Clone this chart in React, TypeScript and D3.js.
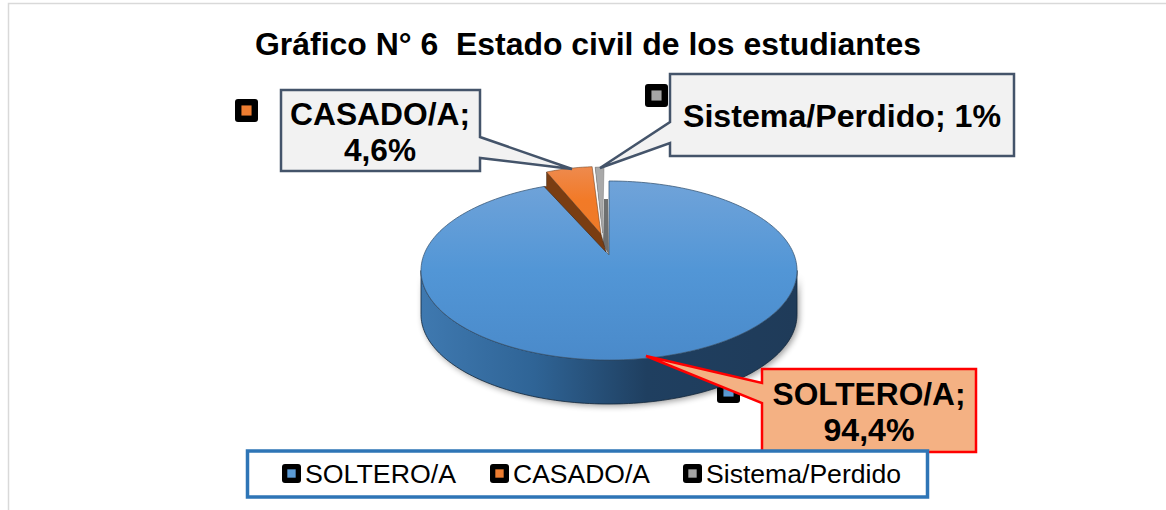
import React from "react";
import * as d3 from "d3";

const categories = ["SOLTERO/A", "CASADO/A", "Sistema/Perdido"];
const values = [94.4, 4.6, 1];
const valueLabels = ["94,4%", "4,6%", "1%"];
const colors = ["#5b9bd5", "#ed7d31", "#a5a5a5"];
const titleText = "Gráfico N° 6  Estado civil de los estudiantes";

const W = 1166, H = 510;
const cx = 609, cy = 270.5, rx = 188, ry = 89.5, depth = 44;
const apex: [number, number] = [609, 255];

const pieGen = d3.pie<number>().sort(null).value(d => d);
const slices = pieGen(values);

const rim = (a: number): [number, number] => [cx + rx * Math.sin(a), cy - ry * Math.cos(a)];
const arcPts = (a0: number, a1: number, n = 80) => d3.range(n + 1).map(i => rim(a0 + (a1 - a0) * i / n));
const line = d3.line<[number, number]>().x(d => d[0]).y(d => d[1]);
const closed = (pts: [number, number][]) => line(pts) + "Z";

// blue slice
const blue = slices[0];
const blueTop = closed([apex, ...arcPts(blue.startAngle, blue.endAngle, 240)]);
// outer wall: the lower half of the rim, pushed down by the depth
const wallTop = arcPts(Math.PI / 2, Math.PI * 1.5, 120);
const wallBottom = wallTop.slice().reverse().map(p => [p[0], p[1] + depth] as [number, number]);
const wallPath = closed([...wallTop, ...wallBottom]);

// exploded slices: rim scaled about the axis and shifted
const explode = (a0: number, a1: number, k: number, dx: number, dy: number) =>
  arcPts(a0, a1, 20).map(p => [cx + k * (p[0] - cx) + dx, p[1] + dy] as [number, number]);
const orangeRim = explode(slices[1].startAngle, slices[1].endAngle, 0.86, -6.7, -14.5);
const greyRim = explode(slices[2].startAngle, slices[2].endAngle, 0.75, -5, -14);
const orangeApex: [number, number] = [601, 234];
const greyApex: [number, number] = [602.5, 233];
const blueEnd = rim(blue.endAngle);

const FONT = "'Liberation Sans', Arial, sans-serif";

function Marker({ x, y, s, fill, r }: { x: number; y: number; s: number; fill: string; r: number }) {
  const inner = s * 0.44;
  return (
    <g>
      <rect x={x} y={y} width={s} height={s} rx={r} fill="#000" />
      <rect x={x + (s - inner) / 2} y={y + (s - inner) / 2} width={inner} height={inner} fill={fill} />
    </g>
  );
}

function Callout({ d, fill, stroke, sw, lines, cxText, ys, fs, lens }: any) {
  return (
    <g>
      <path d={d} fill={fill} stroke={stroke} strokeWidth={sw} strokeLinejoin="miter" />
      {lines.map((t: string, i: number) => (
        <text key={i} x={cxText} y={ys[i]} textAnchor="middle" fontFamily={FONT} fontWeight="bold" fontSize={fs}
          textLength={lens[i]} lengthAdjust="spacingAndGlyphs" fill="#000">{t}</text>
      ))}
    </g>
  );
}

export default function App() {
  return (
    <svg width={W} height={H} viewBox={`0 0 ${W} ${H}`} style={{ position: "absolute", left: 0, top: 0, background: "#fff" }}>
      <defs>
        <linearGradient id="topG" x1="0" y1="0" x2="0" y2="1">
          <stop offset="0" stopColor="#70a3d9" />
          <stop offset="0.5" stopColor="#5296d6" />
          <stop offset="1" stopColor="#4a8aca" />
        </linearGradient>
        <linearGradient id="wallG" gradientUnits="userSpaceOnUse" x1={cx - rx} y1="0" x2={cx + rx} y2="0">
          <stop offset="0" stopColor="#3f79b0" />
          <stop offset="0.3" stopColor="#2f6496" />
          <stop offset="0.6" stopColor="#1f3f60" />
          <stop offset="1" stopColor="#1f3b59" />
        </linearGradient>
        <linearGradient id="orG" x1="0" y1="0" x2="0" y2="1">
          <stop offset="0" stopColor="#ee8a4e" />
          <stop offset="0.5" stopColor="#f27a27" />
          <stop offset="1" stopColor="#ee7a28" />
        </linearGradient>
        <filter id="sh" x="-10%" y="-10%" width="120%" height="130%">
          <feGaussianBlur stdDeviation="3" />
        </filter>
      </defs>

      {/* frame */}
      <path d={`M1166 3.5H8.5V${H}`} fill="none" stroke="#d9d9d9" strokeWidth="1.5" />

      {/* title */}
      <text x={255} y={55} fontFamily={FONT} fontWeight="bold" fontSize={31} textLength={666}
        lengthAdjust="spacingAndGlyphs" style={{ whiteSpace: "pre" }} fill="#000">{titleText}</text>

      {/* data-label markers */}
      <Marker x={235} y={99} s={23} r={3} fill={colors[1]} />
      <Marker x={645} y={84} s={23} r={3} fill={colors[2]} />
      <Marker x={717} y={380} s={23} r={3} fill={colors[0]} />

      {/* pie */}
      <path d={wallPath} transform="translate(2,2)" fill="#000" opacity={0.4} filter="url(#sh)" />
      <path d={wallPath} fill="url(#wallG)" stroke="#12263a" strokeWidth={0.8} />
      <path d={blueTop} fill="url(#topG)" stroke="#3c5a78" strokeWidth={0.8} strokeLinejoin="round" />
      {/* cut wall of the blue slice */}
      <path d={closed([[604, 199], [608, 199], apex, [603, 245]])} fill="#6d6f70" />
      {/* orange side */}
      <path d={closed([orangeRim[0], [orangeRim[0][0], blueEnd[1]], blueEnd, [606, 252], orangeApex])}
        fill="#7a3d12" stroke="#3a2010" strokeWidth={0.5} />
      <path d={closed([orangeApex, ...orangeRim])} fill="url(#orG)" stroke="#5a3418" strokeWidth={0.5} />
      {/* grey slice */}
      <path d={closed([greyRim[0], [greyRim[0][0] + 3, greyRim[0][1]], [603, 245], greyApex])} fill="#555" />
      <path d={closed([greyApex, ...greyRim])} fill="#a9a9a9" stroke="#777" strokeWidth={0.5} />

      {/* callouts */}
      <Callout d="M281 90H480V137L572 169L480 158V171H281Z" fill="#f2f2f2" stroke="#44546a" sw={2.5}
        lines={[`${categories[1]};`, valueLabels[1]]} cxText={380} ys={[125, 161]} fs={32} lens={[180, 72]} />
      <Callout d="M670 74H1014V156H670V143L600 168L670 122Z" fill="#f2f2f2" stroke="#44546a" sw={2.5}
        lines={[`${categories[2]}; ${valueLabels[2]}`]} cxText={842} ys={[127]} fs={32} lens={[318]} />
      <Callout d="M646 356L762 383V369H976V452H762V403Z" fill="#f4b183" stroke="#ff0000" sw={2.5}
        lines={[`${categories[0]};`, valueLabels[0]]} cxText={869} ys={[405, 441]} fs={32} lens={[193, 91]} />

      {/* legend */}
      <rect x={247.5} y={451} width={680} height={46} fill="#fff" stroke="#2e75b6" strokeWidth={3.5} />
      {categories.map((c, i) => {
        const lx = [282, 490, 683][i];
        const tw = [151, 137, 195][i];
        return (
          <g key={c}>
            <Marker x={lx} y={464} s={19} r={3} fill={colors[i]} />
            <text x={lx + 23} y={482.5} fontFamily={FONT} fontSize={26} textLength={tw}
              lengthAdjust="spacingAndGlyphs" fill="#000">{c}</text>
          </g>
        );
      })}
    </svg>
  );
}
